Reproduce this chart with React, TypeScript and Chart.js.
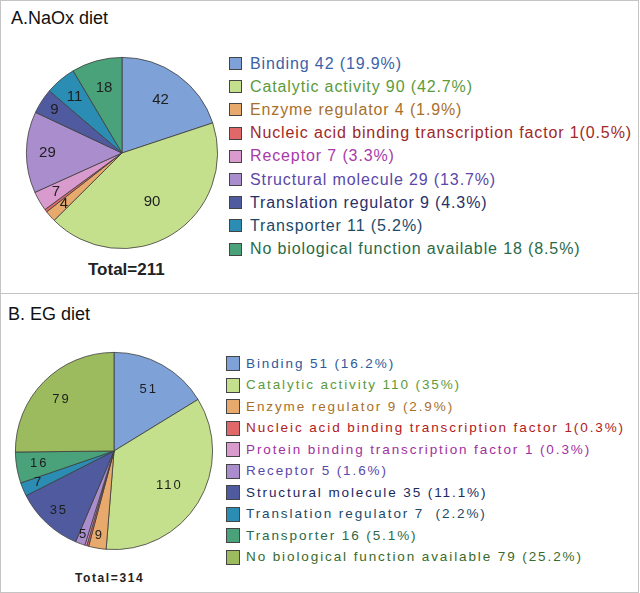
import React, { useEffect, useRef } from "react";
import { Chart, registerables } from "chart.js";
Chart.register(...registerables);

// ---------- Data: panel A (NaOx diet) ----------
const categoriesA = [
  "Binding",
  "Catalytic activity",
  "Enzyme regulator",
  "Nucleic acid binding transcription factor",
  "Receptor",
  "Structural molecule",
  "Translation regulator",
  "Transporter",
  "No biological function available",
];
const valuesA = [42, 90, 4, 1, 7, 29, 9, 11, 18];
const legendLabelsA = [
  "Binding 42 (19.9%)",
  "Catalytic activity 90 (42.7%)",
  "Enzyme regulator 4 (1.9%)",
  "Nucleic acid binding transcription factor 1(0.5%)",
  "Receptor 7 (3.3%)",
  "Structural molecule 29 (13.7%)",
  "Translation regulator 9 (4.3%)",
  "Transporter 11 (5.2%)",
  "No biological function available 18 (8.5%)",
];
const totalA = "Total=211";

// ---------- Data: panel B (EG diet) ----------
const categoriesB = [
  "Binding",
  "Catalytic activity",
  "Enzyme regulator",
  "Nucleic acid binding transcription factor",
  "Protein binding transcription factor",
  "Receptor",
  "Structural molecule",
  "Translation regulator",
  "Transporter",
  "No biological function available",
];
const valuesB = [51, 110, 9, 1, 1, 5, 35, 7, 16, 79];
const legendLabelsB = [
  "Binding 51 (16.2%)",
  "Catalytic activity 110 (35%)",
  "Enzyme regulator 9 (2.9%)",
  "Nucleic acid binding transcription factor 1(0.3%)",
  "Protein binding transcription factor 1 (0.3%)",
  "Receptor 5 (1.6%)",
  "Structural molecule 35 (11.1%)",
  "Translation regulator 7  (2.2%)",
  "Transporter 16 (5.1%)",
  "No biological function available 79 (25.2%)",
];
const totalB = "Total=314";

// ---------- Styles ----------
const colorsA = ["#7ea2d8", "#c5e08c", "#e8aa6c", "#e06868", "#d99ace", "#a98dcc", "#4f5a9f", "#2b8db3", "#4aa27a"];
const textColorsA = ["#3a62a8", "#5c9a3c", "#a8702c", "#a02828", "#a83aa8", "#5a48a8", "#283068", "#1c4a68", "#2a6a48"];
const labelRadiusA = [0.69, 0.6, 0.81, 0.8, 0.8, 0.78, 0.84, 0.77, 0.71];

const colorsB = ["#7ea2d8", "#c5e08c", "#e8aa6c", "#e06868", "#d99ace", "#a98dcc", "#4f5a9f", "#2b8db3", "#4aa27a", "#9bbb5e"];
const textColorsB = ["#2c5a9a", "#5c9a3c", "#a8702c", "#b02020", "#a030a0", "#5a48a8", "#202860", "#1c4a68", "#2a6a48", "#3a6a2a"];
const labelRadiusB = [0.72, 0.66, 0.87, 0.8, 0.8, 0.9, 0.82, 0.83, 0.77, 0.75];

const FONT = "'Liberation Sans', Arial, sans-serif";

const sliceLabelPlugin = {
  id: "sliceLabels",
  afterDatasetsDraw(chart: any, _args: any, opts: any) {
    const ctx = chart.ctx;
    const meta = chart.getDatasetMeta(0);
    const data = chart.data.datasets[0].data as number[];
    ctx.save();
    ctx.font = opts.font;
    ctx.fillStyle = opts.color;
    ctx.textAlign = "center";
    ctx.textBaseline = "middle";
    if (opts.letterSpacing) (ctx as any).letterSpacing = opts.letterSpacing;
    meta.data.forEach((arc: any, i: number) => {
      const v = data[i];
      if (v < 2) return;
      const p = arc.getProps(["x", "y", "startAngle", "endAngle", "outerRadius"], true);
      const mid = (p.startAngle + p.endAngle) / 2;
      const r = p.outerRadius * opts.radii[i];
      ctx.fillText(String(v), p.x + Math.cos(mid) * r, p.y + Math.sin(mid) * r);
    });
    ctx.restore();
  },
};

type PieProps = {
  labels: string[];
  values: number[];
  colors: string[];
  radii: number[];
  font: string;
  letterSpacing?: string;
  left: number;
  top: number;
  size: number;
};

function PieChart(props: PieProps) {
  const ref = useRef<HTMLCanvasElement>(null);
  useEffect(() => {
    const chart = new Chart(ref.current!, {
      type: "pie",
      data: {
        labels: props.labels,
        datasets: [
          {
            data: props.values,
            backgroundColor: props.colors,
            borderColor: "#3c3c3c",
            borderWidth: 0.8,
          },
        ],
      },
      options: {
        responsive: false,
        animation: false,
        layout: { padding: 4 },
        plugins: {
          legend: { display: false },
          tooltip: { enabled: false },
          sliceLabels: {
            font: props.font,
            color: "#1e1e1e",
            radii: props.radii,
            letterSpacing: props.letterSpacing,
          },
        } as any,
      },
      plugins: [sliceLabelPlugin],
    });
    return () => chart.destroy();
  }, []);
  return (
    <canvas
      ref={ref}
      width={props.size}
      height={props.size}
      style={{ position: "absolute", left: props.left, top: props.top, width: props.size, height: props.size }}
    />
  );
}

function Legend(props: {
  labels: string[];
  colors: string[];
  textColors: string[];
  left: number;
  top: number;
  step: number;
  box: number;
  boxH: number;
  font: string;
  letterSpacing?: string;
  textLeft: number;
}) {
  return (
    <>
      {props.labels.map((t, i) => (
        <div key={i}>
          <div
            style={{
              position: "absolute",
              left: props.left,
              top: props.top + i * props.step,
              width: props.box,
              height: props.boxH,
              background: props.colors[i],
              border: "1px solid #444",
              boxSizing: "border-box",
            }}
          />
          <div
            style={{
              position: "absolute",
              left: props.textLeft,
              top: props.top + i * props.step + props.boxH / 2,
              transform: "translateY(-50%)",
              font: props.font,
              letterSpacing: props.letterSpacing,
              color: props.textColors[i],
              whiteSpace: "pre",
              lineHeight: 1,
            }}
          >
            {t}
          </div>
        </div>
      ))}
    </>
  );
}

export default function App() {
  return (
    <div style={{ position: "absolute", left: 0, top: 0, width: 640, height: 593, background: "#fff", fontFamily: FONT }}>
      {/* Panel A */}
      <div
        style={{
          position: "absolute",
          left: 0,
          top: 0,
          width: 639,
          height: 294,
          border: "1px solid #c4c4c4",
          boxSizing: "border-box",
        }}
      >
        <div style={{ position: "absolute", left: 10, top: 7, font: `18px ${FONT}`, color: "#111" }}>A.NaOx diet</div>
        <PieChart
          labels={categoriesA}
          values={valuesA}
          colors={colorsA}
          radii={labelRadiusA}
          font={`15px ${FONT}`}
          left={21}
          top={52}
          size={200}
        />
        <div style={{ position: "absolute", left: 87, top: 259, font: `bold 17px ${FONT}`, color: "#222" }}>{totalA}</div>
        <Legend
          labels={legendLabelsA}
          colors={colorsA}
          textColors={textColorsA}
          left={228}
          top={56}
          step={23.2}
          box={13}
          boxH={13}
          font={`16px ${FONT}`}
          letterSpacing="0.88px"
          textLeft={249}
        />
      </div>
      {/* Panel B */}
      <div
        style={{
          position: "absolute",
          left: 0,
          top: 293,
          width: 639,
          height: 300,
          border: "1px solid #c4c4c4",
          boxSizing: "border-box",
        }}
      >
        <div style={{ position: "absolute", left: 7, top: 10, font: `18px ${FONT}`, color: "#111" }}>B. EG diet</div>
        <PieChart
          labels={categoriesB}
          values={valuesB}
          colors={colorsB}
          radii={labelRadiusB}
          font={`13px ${FONT}`}
          letterSpacing="2px"
          left={10}
          top={54}
          size={206}
        />
        <div style={{ position: "absolute", left: 74, top: 277, font: `bold 12px ${FONT}`, letterSpacing: "1.6px", color: "#222" }}>{totalB}</div>
        <Legend
          labels={legendLabelsB}
          colors={colorsB}
          textColors={textColorsB}
          left={225}
          top={62}
          step={21.5}
          box={14}
          boxH={15}
          font={`13.5px ${FONT}`}
          letterSpacing="1.9px"
          textLeft={245}
        />
      </div>
    </div>
  );
}
